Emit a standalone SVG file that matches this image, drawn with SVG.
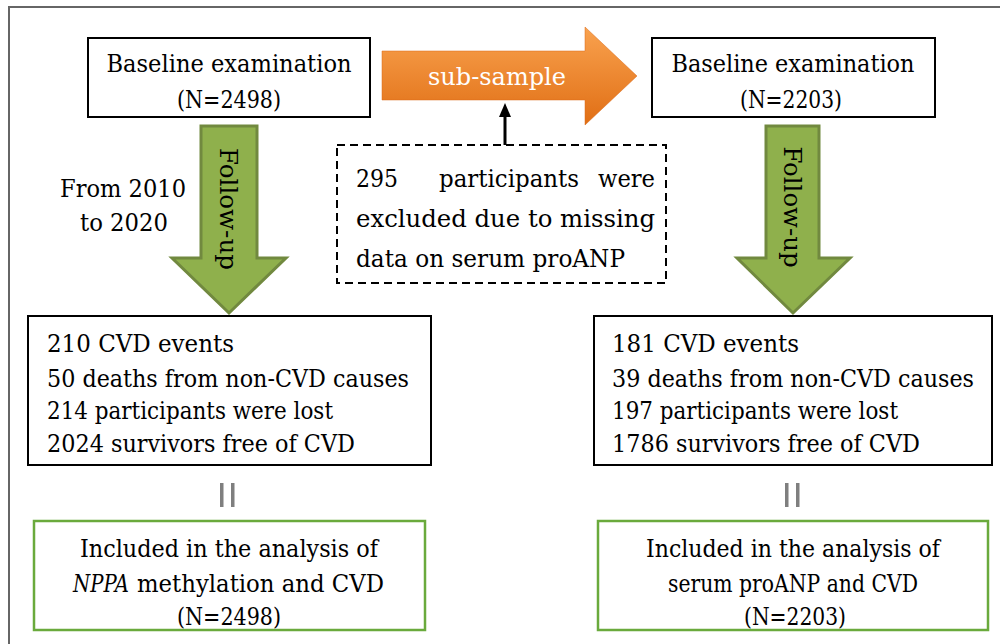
<svg xmlns="http://www.w3.org/2000/svg" width="1000" height="644" viewBox="0 0 1000 644">
<style>
.t{font-family:"DejaVu Serif",serif;font-size:24px;fill:#000}
.s{font-size:23.5px}
.c{text-anchor:middle}
.e{text-anchor:end}
.i{font-style:italic}
.box{fill:#fff;stroke:#000;stroke-width:2}
.gbox{fill:#fff;stroke:#6aaa3c;stroke-width:2.5}
.garrow{fill:#8fb04c;stroke:#71893f;stroke-width:3;stroke-linejoin:miter}
</style>
<defs>
<linearGradient id="og" x1="0" y1="0" x2="0" y2="1">
<stop offset="0" stop-color="#f9a24f"/>
<stop offset="1" stop-color="#e06e14"/>
</linearGradient>
<marker id="ah" markerWidth="14" markerHeight="12" refX="0" refY="6" orient="auto" markerUnits="userSpaceOnUse">
<path d="M0,0 L14,6 L0,12 z" fill="#000"/>
</marker>
</defs>
<rect x="0" y="0" width="1000" height="644" fill="#fff"/>
<path d="M9,644 V7 H1000" fill="none" stroke="#666" stroke-width="2"/>

<g id="baseline1">
<rect class="box" x="88" y="38" width="282" height="79"/>
<text class="t c" x="229" y="72" textLength="245" lengthAdjust="spacingAndGlyphs">Baseline examination</text>
<text class="t c" x="229" y="108" textLength="104" lengthAdjust="spacingAndGlyphs">(N=2498)</text>
</g>

<g id="baseline2">
<rect class="box" x="652" y="38" width="283" height="79"/>
<text class="t c" x="793" y="72" textLength="243" lengthAdjust="spacingAndGlyphs">Baseline examination</text>
<text class="t c" x="791" y="108" textLength="102" lengthAdjust="spacingAndGlyphs">(N=2203)</text>
</g>

<g id="subsample">
<path d="M382,51 H585 V27 L637,76 L585,125 V100 H382 Z" fill="url(#og)" stroke="#d9691a" stroke-width="0.5"/>
<text class="t c" x="497" y="85" style="fill:#fff" textLength="138" lengthAdjust="spacingAndGlyphs">sub-sample</text>
</g>

<g id="excluded">
<rect x="337" y="145" width="329" height="138" fill="#fff" stroke="#000" stroke-width="2" stroke-dasharray="8,5"/>
<text class="t" x="356" y="187" textLength="42" lengthAdjust="spacingAndGlyphs">295</text>
<text class="t c" x="509" y="187" textLength="140" lengthAdjust="spacingAndGlyphs">participants</text>
<text class="t e" x="655" y="187" textLength="57" lengthAdjust="spacingAndGlyphs">were</text>
<text class="t" x="356" y="227" textLength="299" lengthAdjust="spacingAndGlyphs">excluded due to missing</text>
<text class="t" x="356" y="267" textLength="269" lengthAdjust="spacingAndGlyphs">data on serum proANP</text>
</g>

<g id="followup1">
<path class="garrow" d="M201,126 H257 V258 H286 L229,313 L172,258 H201 Z"/>
<text class="t c" transform="translate(220,209) rotate(90)" textLength="122" lengthAdjust="spacingAndGlyphs">Follow-up</text>
</g>

<g id="years">
<text class="t" x="60" y="197" textLength="126" lengthAdjust="spacingAndGlyphs">From 2010</text>
<text class="t" x="80" y="231" textLength="88" lengthAdjust="spacingAndGlyphs">to 2020</text>
</g>

<g id="followup2">
<path class="garrow" d="M766,126 H819 V258 H850 L793,313 L737,258 H766 Z"/>
<text class="t c" transform="translate(784,207) rotate(90)" textLength="121" lengthAdjust="spacingAndGlyphs">Follow-up</text>
</g>

<g id="outcome1">
<rect class="box" x="28" y="316" width="403" height="149"/>
<text class="t" x="47" y="352" textLength="187" lengthAdjust="spacingAndGlyphs">210 CVD events</text>
<text class="t s" x="47" y="387" textLength="362" lengthAdjust="spacingAndGlyphs">50 deaths from non-CVD causes</text>
<text class="t" x="47" y="419" textLength="286" lengthAdjust="spacingAndGlyphs">214 participants were lost</text>
<text class="t" x="47" y="452" textLength="308" lengthAdjust="spacingAndGlyphs">2024 survivors free of CVD</text>
</g>

<g id="outcome2">
<rect class="box" x="594" y="316" width="398" height="149"/>
<text class="t" x="612" y="352" textLength="187" lengthAdjust="spacingAndGlyphs">181 CVD events</text>
<text class="t s" x="612" y="387" textLength="362" lengthAdjust="spacingAndGlyphs">39 deaths from non-CVD causes</text>
<text class="t" x="612" y="419" textLength="286" lengthAdjust="spacingAndGlyphs">197 participants were lost</text>
<text class="t" x="612" y="452" textLength="308" lengthAdjust="spacingAndGlyphs">1786 survivors free of CVD</text>
</g>

<g id="equal1" fill="#7f7f7f">
<rect x="220" y="483" width="3.5" height="24"/>
<rect x="231" y="483" width="3.5" height="24"/>
</g>
<g id="equal2" fill="#7f7f7f">
<rect x="785" y="483" width="3.5" height="24"/>
<rect x="796" y="483" width="3.5" height="24"/>
</g>

<g id="analysis1">
<rect class="gbox" x="34" y="521" width="391" height="109"/>
<text class="t c" x="229" y="557" textLength="298" lengthAdjust="spacingAndGlyphs">Included in the analysis of</text>
<text class="t i" x="73" y="592" textLength="56" lengthAdjust="spacingAndGlyphs">NPPA</text>
<text class="t" x="137" y="592" textLength="247" lengthAdjust="spacingAndGlyphs">methylation and CVD</text>
<text class="t c" x="229" y="625" textLength="104" lengthAdjust="spacingAndGlyphs">(N=2498)</text>
</g>

<g id="analysis2">
<rect class="gbox" x="598" y="521" width="390" height="109"/>
<text class="t c" x="793" y="557" textLength="294" lengthAdjust="spacingAndGlyphs">Included in the analysis of</text>
<text class="t c" x="793" y="592" textLength="250" lengthAdjust="spacingAndGlyphs">serum proANP and CVD</text>
<text class="t c" x="795" y="625" textLength="102" lengthAdjust="spacingAndGlyphs">(N=2203)</text>
</g>

<g id="connectors">
<line x1="505" y1="145" x2="505" y2="117" stroke="#000" stroke-width="3" marker-end="url(#ah)"/>
</g>
</svg>
